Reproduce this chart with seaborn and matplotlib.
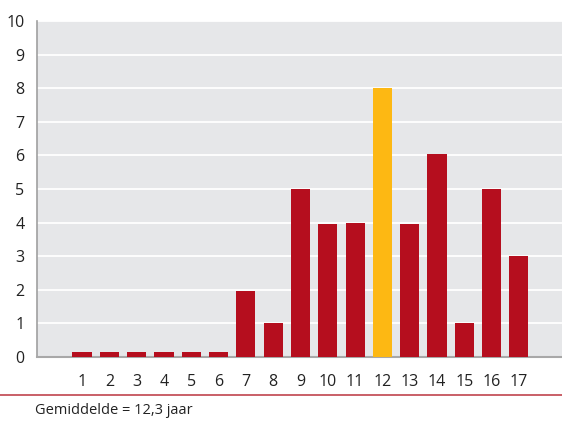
import matplotlib
matplotlib.use("Agg")
import matplotlib.pyplot as plt
import seaborn as sns
import pandas as pd

categories = [str(i) for i in range(1, 18)]
values = [0.15, 0.15, 0.15, 0.15, 0.15, 0.15, 1.95, 1.0, 5.0, 3.95, 4.0, 8.0, 3.95, 6.05, 1.0, 5.0, 3.0]
highlight = "12"
footnote = "Gemiddelde = 12,3 jaar"

red = "#B50E1E"
yellow = "#FDB813"
palette = {c: (yellow if c == highlight else red) for c in categories}

sns.set_theme(style="white")
plt.rcParams['font.family'] = ['Open Sans', 'DejaVu Sans']

df = pd.DataFrame({"cat": categories, "val": values})

fig = plt.figure(figsize=(5.62, 4.21), dpi=100)
ax = fig.add_axes([37/562, 64/421, 1 - 37/562, (357-21)/421])
ax.set_facecolor("#E6E7E9")

sns.barplot(data=df, x="cat", y="val", hue="cat", palette=palette, legend=False,
            width=0.7, ax=ax, saturation=1, zorder=3, linewidth=0, edgecolor="none")

ax.set_xlim(-1.65, 17.58)
ax.set_ylim(0, 10)
ax.set_yticks(range(0, 11))
ax.yaxis.grid(True, color="white", linewidth=1.3, zorder=0)
ax.set_axisbelow(True)
ax.set_xlabel("")
ax.set_ylabel("")

for s in ["top", "right"]:
    ax.spines[s].set_visible(False)
ax.spines["left"].set_color("#A0A0A0")
ax.spines["bottom"].set_color("#A8A8A8")
ax.spines["left"].set_linewidth(1.2)
ax.spines["bottom"].set_linewidth(1.5)

ax.tick_params(axis="y", length=0, pad=9, labelsize=11.5, labelcolor="#222222")
ax.tick_params(axis="x", length=4, width=1, color="#A8A8A8", pad=8, labelsize=11.5,
               labelcolor="#222222", direction="out")

fig.add_artist(plt.Line2D([0, 1], [1 - 395/421, 1 - 395/421], color="#C0444E", linewidth=1.2,
                          transform=fig.transFigure))
fig.text(35/562, 1 - 411/421, footnote, fontsize=10.5, color="#222222", va="center", ha="left")

fig.savefig("out.png", dpi=100)
